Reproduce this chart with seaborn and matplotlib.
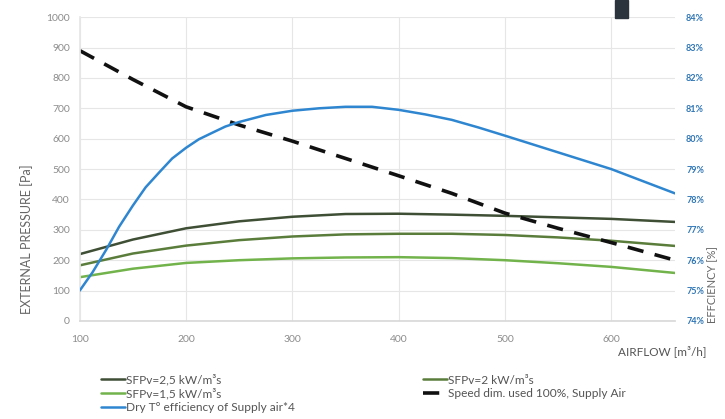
import matplotlib
matplotlib.use("Agg")
import matplotlib.pyplot as plt
import seaborn as sns
import pandas as pd
from matplotlib.patches import Rectangle

sns.set_theme(style="white")
plt.rcParams['font.family'] = ['Lato', 'DejaVu Sans']

airflow = [100, 150, 200, 250, 300, 350, 400, 450, 500, 550, 600, 660]
sfp_25 = [220, 268, 305, 328, 343, 352, 353, 350, 346, 341, 336, 326]
sfp_20 = [183, 222, 248, 266, 278, 285, 287, 287, 283, 275, 264, 247]
sfp_15 = [144, 172, 191, 200, 206, 209, 210, 207, 200, 190, 178, 158]
speed_dim = [890, 795, 705, 645, 592, 535, 478, 420, 355, 305, 258, 200]

eff_airflow = [100, 112, 125, 137, 150, 162, 175, 187, 200, 212, 225, 237, 250, 275,
               300, 325, 350, 375, 400, 425, 450, 475, 500, 550, 600, 630, 660]
efficiency = [75.0, 75.6, 76.35, 77.1, 77.8, 78.4, 78.9, 79.35, 79.7, 79.98, 80.2, 80.4,
              80.55, 80.78, 80.92, 81.0, 81.05, 81.05, 80.95, 80.8, 80.62, 80.37, 80.1,
              79.55, 79.0, 78.6, 78.2]

labels = ["SFPv=2,5 kW/m³s", "SFPv=2 kW/m³s", "SFPv=1,5 kW/m³s",
          "Speed dim. used 100%, Supply Air", "Dry T° efficiency of Supply air*4"]
colors = ["#3f4f35", "#5b7d3c", "#72b34c", "#111111", "#2f86d0"]

df = pd.DataFrame({"airflow": airflow, labels[0]: sfp_25, labels[1]: sfp_20,
                   labels[2]: sfp_15, labels[3]: speed_dim})
df_eff = pd.DataFrame({"airflow": eff_airflow, "eff": efficiency})

fig = plt.figure(figsize=(7.25, 4.19), dpi=100)
ax = fig.add_axes([0.110, 0.234, 0.821, 0.725])
ax2 = ax.twinx()

handles = {}
for i in range(3):
    sns.lineplot(data=df, x="airflow", y=labels[i], ax=ax, color=colors[i], lw=1.8)
    handles[labels[i]] = ax.lines[-1]
sns.lineplot(data=df, x="airflow", y=labels[3], ax=ax, color=colors[3], lw=2.6)
ax.lines[-1].set_dashes([4.5, 3.2])
handles[labels[3]] = ax.lines[-1]
sns.lineplot(data=df_eff, x="airflow", y="eff", ax=ax2, color=colors[4], lw=1.8)
handles[labels[4]] = ax2.lines[-1]

ax.set_xlim(100, 660)
ax.set_ylim(0, 1000)
ax2.set_ylim(74, 84)
ax.set_xticks([100, 200, 300, 400, 500, 600])
ax.set_yticks(range(0, 1001, 100))
ax2.set_yticks(range(74, 85))
ax2.set_yticklabels([f"{v}%" for v in range(74, 85)])

ax.grid(True, color="#e6e6e6", lw=0.8)
ax.set_axisbelow(True)
for a in (ax, ax2):
    for s in a.spines.values():
        s.set_visible(False)
ax.spines['bottom'].set_visible(True)
ax.spines['bottom'].set_color("#d9d9d9")
ax.spines['left'].set_visible(True)
ax.spines['left'].set_color("#e6e6e6")

ax.tick_params(axis='both', length=0, labelsize=7.5, labelcolor="#8c8c8c")
ax.tick_params(axis='y', pad=7)
ax.tick_params(axis='x', pad=10)
ax2.tick_params(axis='y', length=0, labelsize=6.5, labelcolor="#2e75b6", pad=8)
for t in ax2.get_yticklabels():
    t.set_fontweight("bold")

ax.set_xlabel("")
ax.set_ylabel("EXTERNAL PRESSURE [Pa]", fontsize=9, color="#666666")
ax.yaxis.set_label_coords(-0.078, 0.27)
ax2.set_ylabel("EFFCIENCY [%]", fontsize=8, color="#666666", va="center")
ax2.yaxis.set_label_coords(1.064, 0.12)
fig.text(0.975, 0.163, "AIRFLOW [m³/h]", ha="right", va="center", fontsize=8.5, color="#555555")

order = [labels[0], labels[2], labels[4], labels[1], labels[3]]
leg = fig.legend([handles[k] for k in order], order, ncol=2, loc="upper left",
                 bbox_to_anchor=(0.125, 0.133), frameon=False, fontsize=8.6,
                 handlelength=2.0, handletextpad=0.1, columnspacing=10.7,
                 labelspacing=0.2)
for t in leg.get_texts():
    t.set_color("#555555")

fig.patches.append(Rectangle((0.848, 0.957), 0.018, 0.043, transform=fig.transFigure,
                             color="#2b333d", zorder=10))

fig.savefig("out.png", dpi=100)
